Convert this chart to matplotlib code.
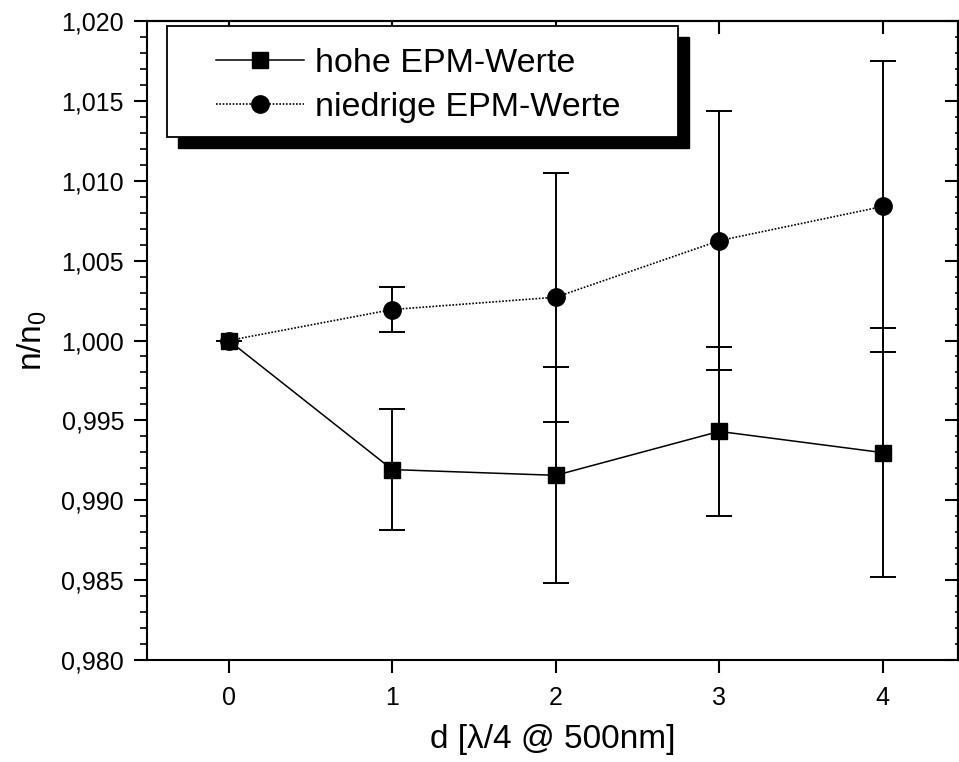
import matplotlib
matplotlib.use("Agg")
import matplotlib.pyplot as plt
from matplotlib.ticker import FuncFormatter, MultipleLocator
from matplotlib.patches import Rectangle

plt.rcParams['font.family'] = ['Liberation Sans', 'DejaVu Sans']
plt.rcParams['mathtext.default'] = 'regular'

# Schichtdicke d in Einheiten von lambda/4 @ 500nm
d = [0, 1, 2, 3, 4]
hohe = [1.000, 0.99192, 0.99156, 0.99431, 0.99298]
hohe_err = [0.0, 0.0038, 0.00677, 0.0053, 0.0078]
niedrig = [1.000, 1.00194, 1.00271, 1.00625, 1.00839]
niedrig_err = [0.0, 0.00142, 0.0078, 0.0081, 0.0091]
labels = ['hohe EPM-Werte', 'niedrige EPM-Werte']

W, H = 959, 762
fig = plt.figure(figsize=(W / 100, H / 100), dpi=100)
ax = fig.add_axes([147 / W, 102 / H, 811 / W, 639 / H])

ax.errorbar(d, hohe, yerr=hohe_err, fmt='none', ecolor='k', elinewidth=1.4,
            capsize=9.5, capthick=1.4, zorder=2)
ax.errorbar(d, niedrig, yerr=niedrig_err, fmt='none', ecolor='k', elinewidth=1.4,
            capsize=9.5, capthick=1.4, zorder=2)
l1, = ax.plot(d, hohe, 'k-', lw=1.1, marker='s', ms=12, zorder=3)
l2, = ax.plot(d, niedrig, color='k', ls=(0, (1, 1)), lw=1.2, marker='o', ms=12.5, zorder=3)

ax.set_xlim(-0.5, 4.46)
ax.set_ylim(0.980, 1.020)
ax.set_xticks(d)
ax.yaxis.set_major_locator(MultipleLocator(0.005))
ax.yaxis.set_minor_locator(MultipleLocator(0.001))
ax.yaxis.set_major_formatter(FuncFormatter(lambda v, p: f'{v:.3f}'.replace('.', ',')))

for s in ax.spines.values():
    s.set_linewidth(1.5)

ax.tick_params(axis='both', which='major', direction='out', length=9.5, width=1.5,
               labelsize=18, pad=7)
ax.tick_params(axis='y', which='minor', direction='out', length=5, width=1.2)
ax.tick_params(axis='x', which='major', pad=9)

# Gegenachsen oben/rechts mit Ticks nach innen
top = ax.secondary_xaxis('top')
top.set_xticks(d)
top.tick_params(direction='in', length=9.5, width=1.5, labeltop=False)
top.spines['top'].set_linewidth(1.5)
right = ax.secondary_yaxis('right')
right.yaxis.set_major_locator(MultipleLocator(0.005))
right.yaxis.set_minor_locator(MultipleLocator(0.001))
right.tick_params(which='major', direction='in', length=9.5, width=1.5, labelright=False)
right.tick_params(which='minor', direction='in', length=2, width=1.2)
right.spines['right'].set_linewidth(1.5)

ax.set_xlabel('d [λ/4 @ 500nm]', fontsize=24, labelpad=10)
ax.set_ylabel('n/n$_0$', fontsize=24, labelpad=9)

# Legende mit schwarzem Schatten
fig.add_artist(Rectangle((178 / W, (H - 148) / H), 511 / W, 111 / H,
                         transform=fig.transFigure, facecolor='k', edgecolor='k', zorder=4))
fig.add_artist(Rectangle((167 / W, (H - 137) / H), 511 / W, 111 / H,
                         transform=fig.transFigure, facecolor='white', edgecolor='k',
                         lw=1.3, zorder=4.5))
leg = fig.legend([l1, l2], labels, loc='upper left', bbox_to_anchor=(216 / W, (H - 48) / H),
                 frameon=False, fontsize=24.5, handlelength=2.6, handletextpad=0.3,
                 labelspacing=0.38, borderpad=0, borderaxespad=0)
leg.set_zorder(5)

fig.savefig('out.png', dpi=100)
